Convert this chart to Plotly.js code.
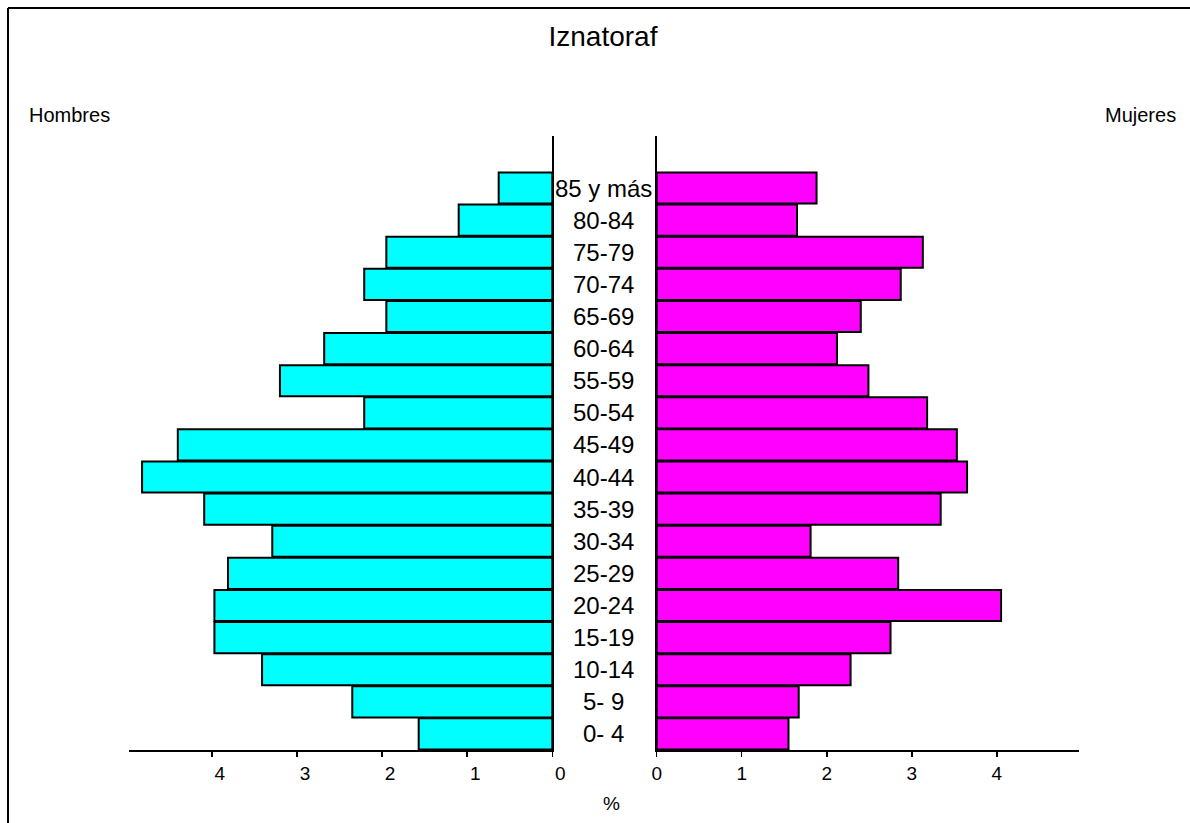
<!DOCTYPE html>
<html>
<head>
<meta charset="utf-8">
<script src="https://cdn.plot.ly/plotly-3.0.1.min.js"></script>
<style>
html,body{margin:0;padding:0;background:#fff;}
#chart{width:1190px;height:823px;}
</style>
</head>
<body>
<div id="chart"></div>
<script>
// Data
const categories = ['0- 4','5- 9','10-14','15-19','20-24','25-29','30-34','35-39','40-44','45-49','50-54','55-59','60-64','65-69','70-74','75-79','80-84','85 y más'];
const hombres = [1.57,2.35,3.41,3.97,3.97,3.81,3.29,4.09,4.82,4.40,2.21,3.20,2.68,1.95,2.21,1.95,1.10,0.63];
const mujeres = [1.55,1.67,2.28,2.75,4.05,2.84,1.81,3.34,3.65,3.53,3.18,2.49,2.12,2.40,2.87,3.13,1.65,1.88];
const tickValues = [0,1,2,3,4];
const tickLabels = ['0','1','2','3','4'];
const titleText = 'Iznatoraf';
const leftLabel = 'Hombres';
const rightLabel = 'Mujeres';
const unitLabel = '%';

const W = 1190, H = 823;
const FONT = 'Liberation Sans, Arial, sans-serif';
const idx = categories.map((c,i)=>i);

const traces = [
  {type:'bar', orientation:'h', hoverinfo:'none', showlegend:false,
   x:hombres, y:idx, xaxis:'x', yaxis:'y',
   marker:{color:'#00ffff', line:{color:'#000', width:2}}},
  {type:'bar', orientation:'h', hoverinfo:'none', showlegend:false,
   x:mujeres, y:idx, xaxis:'x2', yaxis:'y2',
   marker:{color:'#ff00ff', line:{color:'#000', width:2}}}
];

const px = v => v / W;
const py = v => 1 - v / H;

const xCommon = {
  tickvals:tickValues, ticktext:tickLabels, ticks:'outside', ticklen:5, tickwidth:1.5, tickcolor:'#000',
  showline:true, linecolor:'#000', linewidth:2, showgrid:false, zeroline:false,
  tickfont:{family:FONT, size:19, color:'#000'}, fixedrange:true
};
const yCommon = {
  range:[-0.5, 18.62], domain:[py(750), py(136)], showline:true, linecolor:'#000', linewidth:2,
  showgrid:false, zeroline:false, showticklabels:false, ticks:'', fixedrange:true
};

const annotations = categories.map((c,i)=>({
  text:c, xref:'paper', yref:'y', x:px(603.5), y:i, xanchor:'center', yanchor:'middle',
  showarrow:false, font:{family:FONT, size:24, color:'#000'}, bgcolor:'#fff', borderpad:0
}));
annotations.push(
  {text:leftLabel, xref:'paper', yref:'paper', x:px(27), y:py(115), xanchor:'left', yanchor:'middle',
   showarrow:false, font:{family:FONT, size:20, color:'#000'}},
  {text:rightLabel, xref:'paper', yref:'paper', x:px(1178), y:py(115), xanchor:'right', yanchor:'middle',
   showarrow:false, font:{family:FONT, size:20, color:'#000'}},
  {text:unitLabel, xref:'paper', yref:'paper', x:px(612), y:py(803), xanchor:'center', yanchor:'middle',
   showarrow:false, font:{family:FONT, size:19, color:'#000'}}
);

const layout = {
  width:W, height:H, margin:{l:0,r:0,t:0,b:0}, paper_bgcolor:'#fff', plot_bgcolor:'rgba(0,0,0,0)',
  title:{text:titleText, font:{family:FONT, size:28, color:'#000'}, x:px(603), xanchor:'center', y:py(36), yanchor:'middle', xref:'paper', yref:'paper'},
  bargap:0.03,
  xaxis:Object.assign({}, xCommon, {domain:[px(129.3), px(552.3)], range:[4.97,0], anchor:'y', ticklabelshift:-8}),
  xaxis2:Object.assign({}, xCommon, {domain:[px(656.7), px(1079.3)], range:[0,4.97], anchor:'y2'}),
  yaxis:Object.assign({}, yCommon, {anchor:'x', side:'right'}),
  yaxis2:Object.assign({}, yCommon, {anchor:'x2', side:'left'}),
  annotations:annotations,
  shapes:[
    {type:'line', xref:'paper', yref:'paper', x0:px(8), x1:px(8), y0:0, y1:py(8), line:{color:'#000', width:2}},
    {type:'line', xref:'paper', yref:'paper', x0:px(8), x1:1, y0:py(8), y1:py(8), line:{color:'#000', width:2}}
  ]
};

Plotly.newPlot('chart', traces, layout, {displayModeBar:false, staticPlot:true});
</script>
</body>
</html>
